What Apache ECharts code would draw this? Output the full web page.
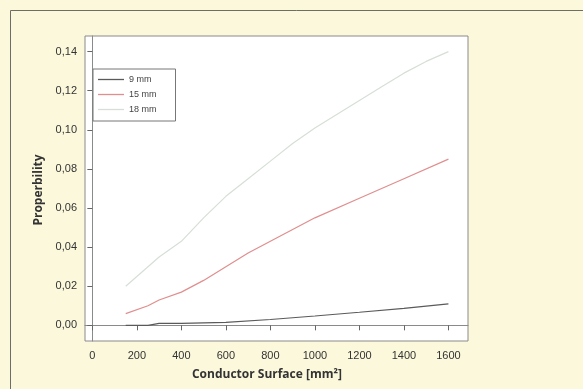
<!DOCTYPE html>
<html>
<head>
<meta charset="utf-8">
<script src="https://cdn.jsdelivr.net/npm/echarts@6/dist/echarts.min.js"></script>
<style>
html,body{margin:0;padding:0;background:#FBF8DC;}
#chart{width:583px;height:389px;}
</style>
</head>
<body>
<div id="chart"></div>
<script>
var seriesNames = ['9 mm', '15 mm', '18 mm'];
var xTicks = [0, 200, 400, 600, 800, 1000, 1200, 1400, 1600];
var yTicks = [0, 0.02, 0.04, 0.06, 0.08, 0.10, 0.12, 0.14];
var mm9 = [[150,0.000],[250,0.000],[300,0.001],[400,0.001],[600,0.0015],[800,0.003],[1000,0.0048],[1200,0.0067],[1400,0.0087],[1600,0.011]];
var mm15 = [[150,0.006],[250,0.010],[300,0.013],[400,0.017],[500,0.023],[600,0.030],[700,0.037],[800,0.043],[900,0.049],[1000,0.055],[1200,0.065],[1400,0.075],[1600,0.085]];
var mm18 = [[150,0.020],[200,0.025],[300,0.035],[400,0.043],[500,0.055],[600,0.066],[700,0.075],[800,0.084],[900,0.093],[1000,0.101],[1100,0.108],[1200,0.115],[1300,0.122],[1400,0.129],[1500,0.135],[1600,0.140]];
var colors = ['#5a5a5a', '#e08e8e', '#d6dfd6'];

var chart = echarts.init(document.getElementById('chart'), null, {renderer: 'canvas'});
var font = 'Liberation Sans';
chart.setOption({
  backgroundColor: '#FBF8DC',
  animation: false,
  grid: {left: 85, right: 115, top: 36, bottom: 48, show: true, backgroundColor: '#ffffff', borderColor: '#8a8a8a', borderWidth: 1},
  legend: {
    orient: 'vertical', left: 93, top: 69,
    data: seriesNames,
    icon: 'rect',
    backgroundColor: '#ffffff', borderColor: '#777777', borderWidth: 1,
    padding: [6, 19, 7, 5], itemWidth: 26, itemHeight: 1.3, itemGap: 6,
    textStyle: {fontFamily: 'Liberation Sans Narrow, Liberation Sans', fontSize: 9, color: '#444'}
  },
  xAxis: {
    type: 'value', min: -33, max: 1688,
    splitLine: {show: false},
    axisLine: {show: true, lineStyle: {color: '#8a8a8a'}},
    axisTick: {show: true, length: 5, customValues: xTicks, lineStyle: {color: '#666'}},
    axisLabel: {customValues: xTicks, margin: 9, fontFamily: font, fontSize: 11, color: '#333',
      formatter: function (v) { return String(v); }}
  },
  yAxis: {
    type: 'value', min: -0.008, max: 0.148,
    splitLine: {show: false},
    axisLine: {show: true, lineStyle: {color: '#8a8a8a'}},
    axisTick: {show: true, length: 5, customValues: yTicks, lineStyle: {color: '#666'}},
    axisLabel: {customValues: yTicks, margin: 8, fontFamily: font, fontSize: 11, color: '#333',
      formatter: function (v) { return v.toFixed(2).replace('.', ','); }}
  },
  graphic: [
    {type: 'line', shape: {x1: 10.5, y1: 10.5, x2: 583, y2: 10.5}, style: {stroke: '#6e6e62', lineWidth: 1}},
    {type: 'line', shape: {x1: 10.5, y1: 10.5, x2: 10.5, y2: 389}, style: {stroke: '#6e6e62', lineWidth: 1}},
    {type: 'text', x: 267, y: 375, style: {text: 'Conductor Surface [mm²]', align: 'center', verticalAlign: 'middle', font: 'bold 12px "Open Sans"', fill: '#333'}},
    {type: 'text', rotation: Math.PI / 2, x: 39, y: 190, style: {text: 'Properbility', align: 'center', verticalAlign: 'middle', font: 'bold 12px "Open Sans"', fill: '#333'}}
  ],
  series: [
    {name: seriesNames[0], type: 'line', data: mm9, symbol: 'none', lineStyle: {color: colors[0], width: 1.2}, itemStyle: {color: colors[0]}},
    {name: seriesNames[1], type: 'line', data: mm15, symbol: 'none', lineStyle: {color: colors[1], width: 1.2}, itemStyle: {color: colors[1]}},
    {name: seriesNames[2], type: 'line', data: mm18, symbol: 'none', lineStyle: {color: colors[2], width: 1.2}, itemStyle: {color: colors[2]}}
  ]
});
</script>
</body>
</html>
